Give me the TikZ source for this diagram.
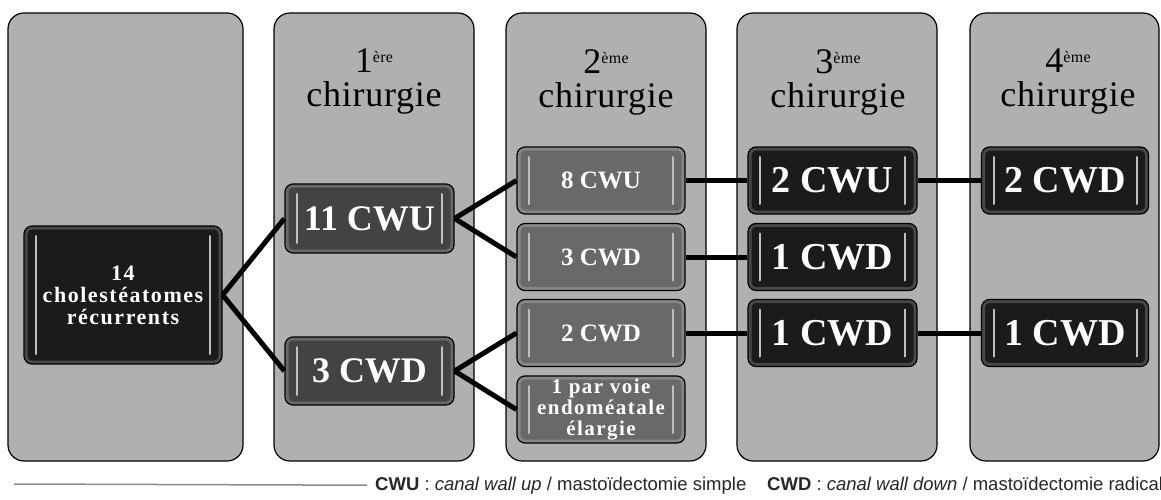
\documentclass[tikz,border=0pt]{standalone}
\usepackage{fontspec}
\setmainfont{Liberation Serif}
\newfontfamily\legendfont{Liberation Sans}
\newfontfamily\spacedfont[LetterSpace=7]{Liberation Serif}
\newfontfamily\headfont[LetterSpace=2]{Liberation Serif}

\definecolor{colgray}{HTML}{B0B0B0}
\definecolor{boxblack}{HTML}{1B1B1B}
\definecolor{boxdark}{HTML}{434343}
\definecolor{boxmid}{HTML}{696969}
\definecolor{rulegray}{HTML}{8C8C8C}

\newcommand{\ord}[1]{\raisebox{10pt}{\fontsize{16}{16}\selectfont #1}}

\tikzset{
	column/.style={draw=black, line width=1.2pt, fill=colgray, rounded corners=16pt},
	head/.style={anchor=north, inner sep=0pt, align=center, font=\headfont\fontsize{36}{34}\selectfont},
	stage/.style={draw=black, line width=1.2pt, rounded corners=8pt, text=white,
		align=center, inner sep=0pt, minimum width=168pt, minimum height=67pt,
		font=\bfseries\fontsize{36}{36}\selectfont,
		path picture={
			\draw[white, opacity=.2, line width=7pt, rounded corners=8pt]
				(path picture bounding box.north west) rectangle (path picture bounding box.south east);
			\draw[white!75!black, line width=2pt, line cap=round]
				([xshift=12pt,yshift=-10pt]path picture bounding box.north west) --
				([xshift=12pt,yshift=10pt]path picture bounding box.south west);
			\draw[white!75!black, line width=2pt, line cap=round]
				([xshift=-12pt,yshift=-10pt]path picture bounding box.north east) --
				([xshift=-12pt,yshift=10pt]path picture bounding box.south east);
		}},
	small/.style={font=\bfseries\fontsize{25}{22}\selectfont},
	tight/.style={font=\spacedfont\bfseries\fontsize{22}{22}\selectfont},
	tighter/.style={font=\spacedfont\bfseries\fontsize{21}{21}\selectfont},
	large/.style={font=\bfseries\fontsize{38}{38}\selectfont},
	link/.style={line width=5pt, black},
	legend/.style={anchor=base west, inner sep=0pt, text=black!85, font=\legendfont\fontsize{18.5}{20}\selectfont}
}

\begin{document}
\begin{tikzpicture}[x=1pt, y=-1pt]
	\useasboundingbox (0,0) rectangle (1161,500);
	
	% columns
	\draw[column] (8,13) rectangle (243,461);
	\draw[column] (274,13) rectangle (474,461);
	\draw[column] (506,13) rectangle (706,461);
	\draw[column] (737,13) rectangle (937,461);
	\draw[column] (970,13) rectangle (1159,461);
	
	% headings
	\node[head] (H1) at (374,49) {1\ord{ère}\\chirurgie};
	\node[head] (H2) at (606,49) {2\ord{ème}\\chirurgie};
	\node[head] (H3) at (838,49) {3\ord{ème}\\chirurgie};
	\node[head] (H4) at (1068,49) {4\ord{ème}\\chirurgie};
	
	\begin{scope}[every node/.style={stage}]
		\node[fill=boxblack, tight, minimum width=198pt, minimum height=138pt] (R) at (123,295) {14\\cholestéatomes\\récurrents};
		
		\node[fill=boxdark, minimum width=169pt, minimum height=69pt] (A1) at (369.5,218.5) {11 CWU};
		\node[fill=boxdark, minimum width=169pt, minimum height=68pt] (A2) at (369.5,371) {3 CWD};
		
		\node[fill=boxmid, small] (B1) at (601,180.5) {8 CWU};
		\node[fill=boxmid, small] (B2) at (601,257) {3 CWD};
		\node[fill=boxmid, small] (B3) at (601,333) {2 CWD};
		\node[fill=boxmid, tighter] (B4) at (601,409.5) {1 par voie\\endoméatale\\élargie};
		
		\node[fill=boxblack, large, minimum width=169pt] (C1) at (832.5,180.5) {2 CWU};
		\node[fill=boxblack, large, minimum width=169pt] (C2) at (832.5,257) {1 CWD};
		\node[fill=boxblack, large, minimum width=169pt] (C3) at (832.5,333) {1 CWD};
		
		\node[fill=boxblack, large, minimum width=167pt] (D1) at (1065,180.5) {2 CWD};
		\node[fill=boxblack, large, minimum width=167pt] (D2) at (1065,333) {1 CWD};
	\end{scope}
	
	\begin{scope}[every path/.style={link}]
		\draw (R.east) -- (A1.west);
		\draw (R.east) -- (A2.west);
		\draw (A1.east) -- (B1.west);
		\draw (A1.east) -- (B2.west);
		\draw (A2.east) -- (B3.west);
		\draw (A2.east) -- (B4.west);
		\draw (B1) -- (C1);
		\draw (B2) -- (C2);
		\draw (B3) -- (C3);
		\draw (C1) -- (D1);
		\draw (C3) -- (D2);
	\end{scope}
	
	% legend
	\node[legend] (cwu) at (375,490) {\textbf{CWU} : \textit{canal wall up} / mastoïdectomie simple};
	\node[legend] (cwd) at (767,490) {\textbf{CWD} : \textit{canal wall down} / mastoïdectomie radicale};
	\coordinate (rulestart) at (14,484);
	\draw[rulegray, line width=1.5pt] (rulestart) -- ([xshift=-8pt]cwu.west);
\end{tikzpicture}
\end{document}
